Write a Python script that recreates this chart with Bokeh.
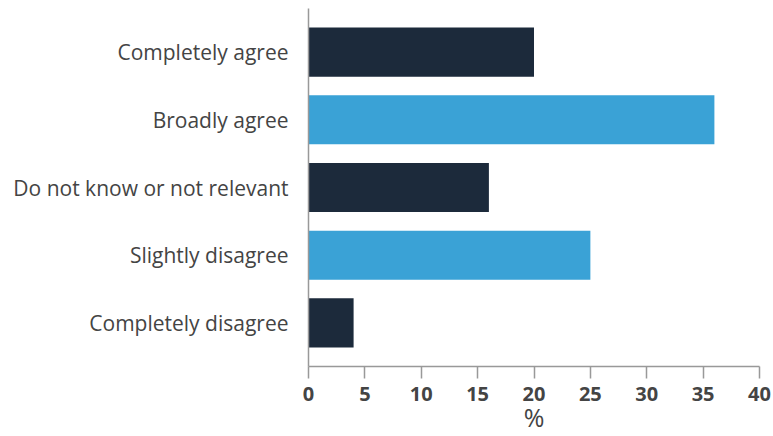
from bokeh.plotting import figure
from bokeh.models import FactorRange, Range1d, ColumnDataSource
from bokeh.embed import file_html
from bokeh.resources import INLINE

categories = ["Completely agree", "Broadly agree", "Do not know or not relevant",
              "Slightly disagree", "Completely disagree"]
values = [20, 36, 16, 25, 4]
colors = ["#1c2a3b", "#3aa2d6", "#1c2a3b", "#3aa2d6", "#1c2a3b"]
x_ticks = [0, 5, 10, 15, 20, 25, 30, 35, 40]
x_title = "%"

factors = list(reversed(categories))
src = ColumnDataSource(dict(cat=categories, val=values, color=colors))

p = figure(width=773, height=436, output_backend="svg", toolbar_location=None,
           y_range=FactorRange(factors=factors, range_padding=0.058),
           x_range=Range1d(0, 40),
           min_border_left=308, min_border_right=14, min_border_top=8, min_border_bottom=0)
p.hbar(y="cat", right="val", height=0.725, left=0, color="color", line_color=None, source=src)

p.outline_line_color = None
p.grid.grid_line_color = None
p.background_fill_color = "white"

p.xaxis.ticker = x_ticks
p.xaxis.axis_label = x_title
p.xaxis.axis_label_text_font = "Open Sans"
p.xaxis.axis_label_text_font_style = "normal"
p.xaxis.axis_label_text_font_size = "25px"
p.xaxis.axis_label_text_color = "#444444"
p.xaxis.axis_label_standoff = -4
p.xaxis.major_label_text_font = "Open Sans"
p.xaxis.major_label_text_font_style = "bold"
p.xaxis.major_label_text_font_size = "20px"
p.xaxis.major_label_text_color = "#444444"
p.xaxis.major_label_standoff = 8
p.xaxis.major_tick_out = 12
p.xaxis.major_tick_in = 0
p.xaxis.minor_tick_line_color = None
p.xaxis.axis_line_color = "#999999"
p.xaxis.major_tick_line_color = "#999999"
p.xaxis.axis_line_width = 1.5
p.xaxis.major_tick_line_width = 1.5

p.yaxis.major_label_text_font = "Open Sans"
p.yaxis.major_label_text_font_size = "21px"
p.yaxis.major_label_text_color = "#444444"
p.yaxis.major_tick_line_color = None
p.yaxis.major_tick_out = 0
p.yaxis.major_tick_in = 0
p.yaxis.major_label_standoff = 20
p.yaxis.axis_line_color = "#999999"
p.yaxis.axis_line_width = 1.5

open("out.html", "w").write(file_html(p, INLINE))
